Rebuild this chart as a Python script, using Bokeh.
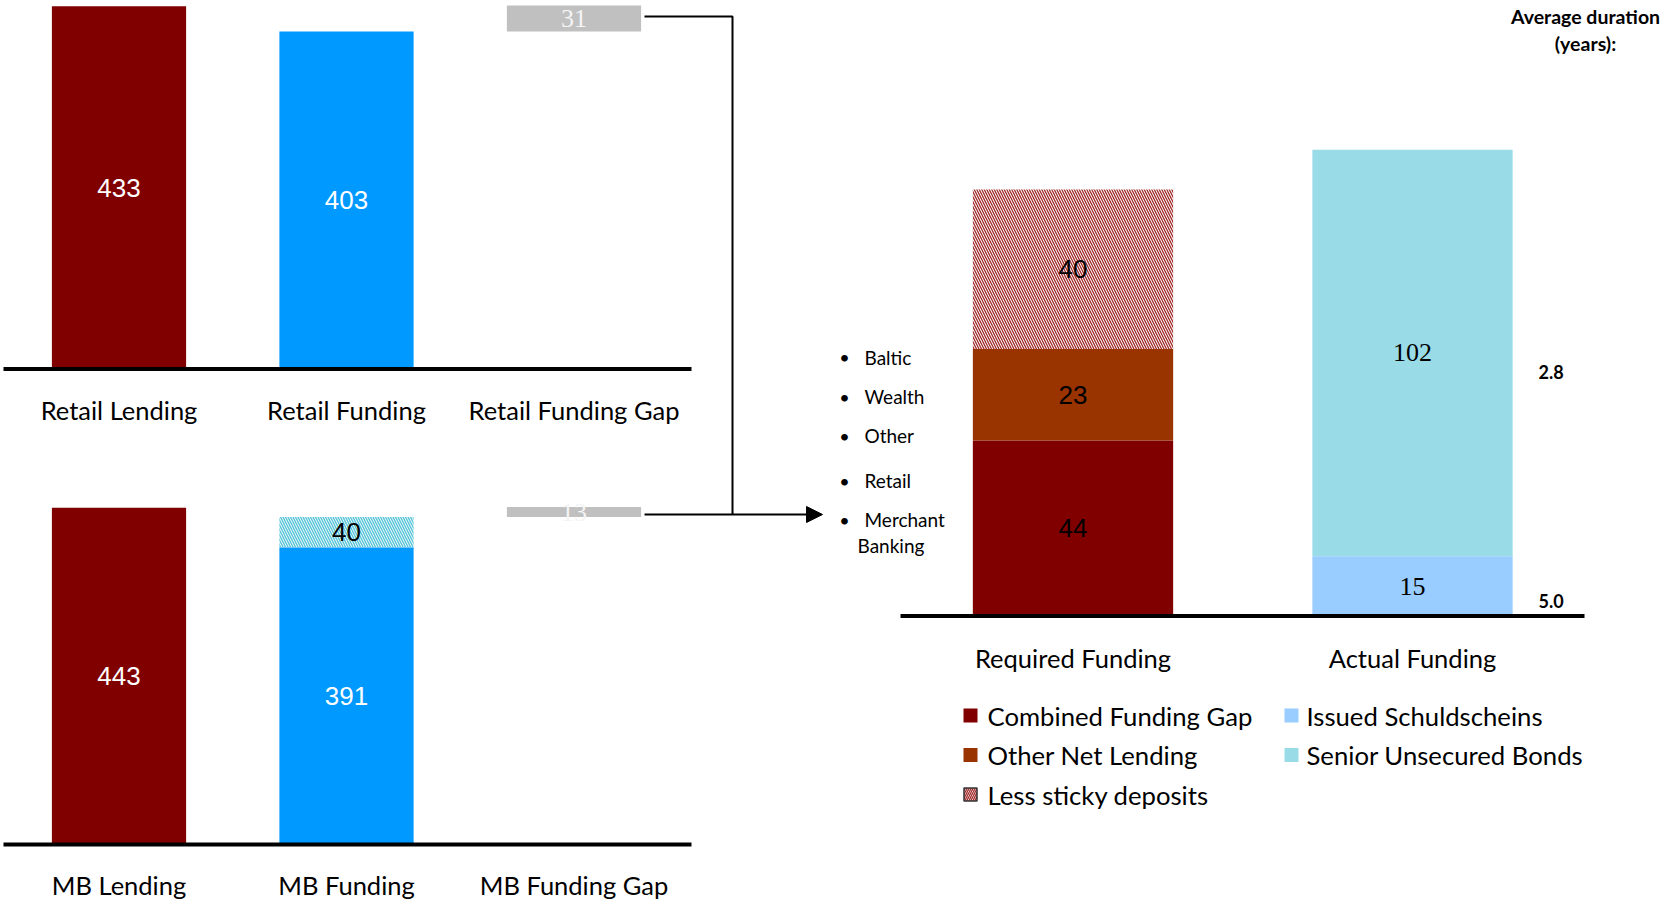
from bokeh.plotting import figure
from bokeh.models import Range1d, Arrow, NormalHead
from bokeh.embed import file_html
from bokeh.resources import INLINE
from bokeh.core.properties import value

# ---------------- data ----------------
retail_categories = ["Retail Lending", "Retail Funding", "Retail Funding Gap"]
retail_lending = 433
retail_funding = 403
retail_gap = 31

mb_categories = ["MB Lending", "MB Funding", "MB Funding Gap"]
mb_lending = 443
mb_funding = 391
mb_less_sticky = 40
mb_gap = 13

funding_categories = ["Required Funding", "Actual Funding"]
combined_funding_gap = 44
other_net_lending = 23
less_sticky_deposits = 40
issued_schuldscheins = 15
senior_unsecured_bonds = 102
duration_senior = "2.8"
duration_schuldscheins = "5.0"

gap_components = ["Baltic", "Wealth", "Other", "Retail", "Merchant"]
gap_components_cont = "Banking"

legend_col1 = ["Combined Funding Gap", "Other Net Lending", "Less sticky deposits"]
legend_col2 = ["Issued Schuldscheins", "Senior Unsecured Bonds"]

# ---------------- style / layout ----------------
W, H = 1664, 902
DARK_RED = "#800000"
BROWN = "#993300"
BLUE = "#0099FF"
GRAY = "#C0C0C0"
LIGHT_BLUE = "#99CCFF"
CYAN = "#99DCE8"
HATCH_RED = "#A02828"
HATCH_CYAN = "#5CC6DA"
SANS = value("Lato")
NUM = value("Liberation Sans")
SERIF = value("Liberation Serif")

LEFT_X0, LEFT_DX = 118.5, 227.5
RIGHT_X0, RIGHT_DX = 1072.5, 339.5
TOP_BASE, TOP_SCALE = 368.5, 0.8376
BOT_BASE, BOT_SCALE = 844.0, 0.760
R_BASE, R_SCALE = 615.5, 3.986
BW = 0.59

p = figure(width=W, height=H, x_range=Range1d(0, W), y_range=Range1d(H, 0),
           output_backend="svg", toolbar_location=None,
           x_axis_type=None, y_axis_type=None, min_border=0,
           outline_line_color=None, background_fill_color="white",
           border_fill_color="white")

p.extra_x_ranges = {
    "left": Range1d(-LEFT_X0 / LEFT_DX, (W - LEFT_X0) / LEFT_DX),
    "right": Range1d(-RIGHT_X0 / RIGHT_DX, (W - RIGHT_X0) / RIGHT_DX),
}
p.extra_y_ranges = {
    "top": Range1d(-(H - TOP_BASE) / TOP_SCALE, TOP_BASE / TOP_SCALE),
    "bot": Range1d(-(H - BOT_BASE) / BOT_SCALE, BOT_BASE / BOT_SCALE),
    "r": Range1d(-(H - R_BASE) / R_SCALE, R_BASE / R_SCALE),
}

def num(x, y, t, xr, yr, color="white", font=NUM, size="26px"):
    p.text(x=x, y=y, text=t, x_range_name=xr, y_range_name=yr,
           text_color=color, text_font=font, text_font_size=size,
           text_align="center", text_baseline="middle")

# ---------------- top-left panel (Retail) ----------------
p.vbar(x=[0, 1], width=BW, bottom=0, top=[retail_lending, retail_funding],
       fill_color=[DARK_RED, BLUE], line_color=None,
       x_range_name="left", y_range_name="top")
p.vbar(x=[2], width=BW, bottom=[retail_funding], top=[retail_funding + retail_gap],
       fill_color=GRAY, line_color=None, x_range_name="left", y_range_name="top")
num([0, 1], [retail_lending / 2, retail_funding / 2],
    [str(retail_lending), str(retail_funding)], "left", "top")
num([2], [retail_funding + retail_gap / 2], [str(retail_gap)], "left", "top",
    color="#F4F4F4", font=SERIF)
p.segment(x0=[3], x1=[691], y0=[0], y1=[0], y_range_name="top",
          line_color="black", line_width=4)
p.text(x=[0, 1, 2], y=[409] * 3, text=retail_categories, x_range_name="left",
       text_font=SANS, text_font_size="25.5px", text_align="center",
       text_baseline="middle", text_color="black")

# ---------------- bottom-left panel (MB) ----------------
p.vbar(x=[0, 1], width=BW, bottom=0, top=[mb_lending, mb_funding],
       fill_color=[DARK_RED, BLUE], line_color=None,
       x_range_name="left", y_range_name="bot")
p.vbar(x=[1], width=BW, bottom=[mb_funding], top=[mb_funding + mb_less_sticky],
       fill_color="white", line_color=None, hatch_pattern="\\",
       hatch_color=HATCH_CYAN, hatch_scale=5, hatch_weight=1.5,
       x_range_name="left", y_range_name="bot")
p.vbar(x=[2], width=BW, bottom=[mb_funding + mb_less_sticky],
       top=[mb_funding + mb_less_sticky + mb_gap],
       fill_color=GRAY, line_color=None, x_range_name="left", y_range_name="bot")
num([0, 1], [mb_lending / 2, mb_funding / 2],
    [str(mb_lending), str(mb_funding)], "left", "bot")
num([1], [mb_funding + mb_less_sticky / 2], [str(mb_less_sticky)], "left", "bot",
    color="black")
num([2], [mb_funding + mb_less_sticky + mb_gap / 2], [str(mb_gap)], "left", "bot",
    color="#F4F4F4", font=SERIF)
p.segment(x0=[3], x1=[691], y0=[0], y1=[0], y_range_name="bot",
          line_color="black", line_width=4)
p.text(x=[0, 1, 2], y=[884] * 3, text=mb_categories, x_range_name="left",
       text_font=SANS, text_font_size="25.5px", text_align="center",
       text_baseline="middle", text_color="black")

# ---------------- connector ----------------
p.line(x=[644, 732, 732], y=[16, 16, 514], line_color="black", line_width=2)
p.add_layout(Arrow(end=NormalHead(size=16, fill_color="black", line_color="black"),
                   x_start=644, y_start=514, x_end=822, y_end=514,
                   line_color="black", line_width=2))

# ---------------- bullets ----------------
bullet_y = [356.5, 396, 435, 480, 519]
p.text(x=[844] * len(gap_components), y=bullet_y, text=["•"] * len(gap_components),
       text_font=SANS, text_font_size="18px", text_align="center",
       text_baseline="middle", text_color="black")
p.text(x=[864] * len(gap_components), y=bullet_y, text=gap_components,
       text_font=SANS, text_font_size="19px", text_align="left",
       text_baseline="middle", text_color="black")
p.text(x=[857], y=[545], text=[gap_components_cont],
       text_font=SANS, text_font_size="19px", text_align="left",
       text_baseline="middle", text_color="black")

# ---------------- right panel ----------------
req_bottoms = [0, combined_funding_gap]
req_tops = [combined_funding_gap, combined_funding_gap + other_net_lending]
p.vbar(x=[0, 0], width=BW, bottom=req_bottoms, top=req_tops,
       fill_color=[DARK_RED, BROWN], line_color=None,
       x_range_name="right", y_range_name="r")
p.vbar(x=[0], width=BW, bottom=[req_tops[1]], top=[req_tops[1] + less_sticky_deposits],
       fill_color="white", line_color=None, hatch_pattern="\\",
       hatch_color=HATCH_RED, hatch_scale=5, hatch_weight=1.3,
       x_range_name="right", y_range_name="r")
p.vbar(x=[1, 1], width=BW, bottom=[0, issued_schuldscheins],
       top=[issued_schuldscheins, issued_schuldscheins + senior_unsecured_bonds],
       fill_color=[LIGHT_BLUE, CYAN], line_color=None,
       x_range_name="right", y_range_name="r")
num([0, 0], [combined_funding_gap / 2, combined_funding_gap + other_net_lending / 2],
    [str(combined_funding_gap), str(other_net_lending)], "right", "r", color="black")
num([0], [req_tops[1] + less_sticky_deposits / 2], [str(less_sticky_deposits)],
    "right", "r", color="black")
num([1, 1], [issued_schuldscheins / 2, issued_schuldscheins + senior_unsecured_bonds / 2],
    [str(issued_schuldscheins), str(senior_unsecured_bonds)], "right", "r",
    color="black", font=SERIF)
p.segment(x0=[900], x1=[1584], y0=[0], y1=[0], y_range_name="r",
          line_color="black", line_width=4)
p.text(x=[0, 1], y=[657] * 2, text=funding_categories, x_range_name="right",
       text_font=SANS, text_font_size="25.5px", text_align="center",
       text_baseline="middle", text_color="black")

# durations
p.text(x=[1538, 1538],
       y=[issued_schuldscheins + senior_unsecured_bonds / 2, issued_schuldscheins / 2],
       text=[duration_senior, duration_schuldscheins], y_range_name="r",
       y_offset=[19, 15],
       text_font=SANS, text_font_size="18px", text_font_style="bold",
       text_align="left", text_baseline="middle", text_color="black")
p.text(x=[1585, 1585], y=[16, 43], text=["Average duration", "(years):"],
       text_font=SANS, text_font_size="19.5px", text_font_style="bold",
       text_align="center", text_baseline="middle", text_color="black")

# ---------------- legend ----------------
rows_y = [715, 754.5, 794]
p.rect(x=[970, 970], y=rows_y[:2], width=14, height=14,
       fill_color=[DARK_RED, BROWN], line_color=None)
p.rect(x=[970], y=rows_y[2:], width=13, height=13, fill_color="white",
       line_color="#333333", line_width=1.5, hatch_pattern="\\",
       hatch_color=HATCH_RED, hatch_scale=4, hatch_weight=1.3)
p.text(x=[987] * 3, y=rows_y, text=legend_col1,
       text_font=SANS, text_font_size="25.7px", text_align="left",
       text_baseline="middle", text_color="black")
p.rect(x=[1291, 1291], y=rows_y[:2], width=14, height=14,
       fill_color=[LIGHT_BLUE, CYAN], line_color=None)
p.text(x=[1306] * 2, y=rows_y[:2], text=legend_col2,
       text_font=SANS, text_font_size="25.7px", text_align="left",
       text_baseline="middle", text_color="black")

open("out.html", "w").write(file_html(p, INLINE))
